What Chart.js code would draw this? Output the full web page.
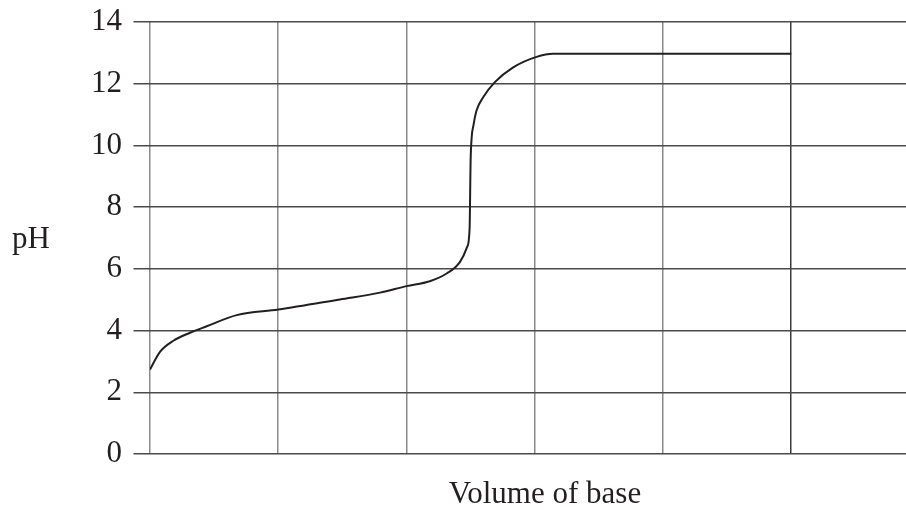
<!DOCTYPE html>
<html>
<head>
<meta charset="utf-8">
<script src="https://cdn.jsdelivr.net/npm/chart.js@4/dist/chart.umd.min.js"></script>
<style>
  html, body { margin: 0; padding: 0; background: #fff; overflow: hidden; }
  #wrap { width: 940px; height: 510px; position: relative; }
</style>
</head>
<body>
<div id="wrap"><canvas id="c" width="940" height="510"></canvas></div>
<script>
// Data
const volumes  = [0, 0.078, 0.182, 0.312, 0.442, 0.676, 1.0, 1.481, 1.793, 2.0, 2.182, 2.313, 2.416, 2.473, 2.492, 2.500, 2.508, 2.522, 2.546, 2.598, 2.689, 2.832, 3.014, 3.143, 5.0];
const phValues = [2.74, 3.31, 3.67, 3.93, 4.14, 4.50, 4.68, 5.01, 5.23, 5.44, 5.60, 5.85, 6.22, 6.71, 7.3, 9.5, 10.25, 10.65, 11.13, 11.56, 12.05, 12.53, 12.87, 12.97, 12.97];
const yTicks = [0, 2, 4, 6, 8, 10, 12, 14];
const xTitle = 'Volume of base';
const yTitle = 'pH';

const FONT = '"Liberation Serif", "Times New Roman", serif';

const points = volumes.map((v, i) => ({ x: v, y: phValues[i] }));

const yLabelPlugin = {
  id: 'yLabel',
  afterDraw(chart) {
    const ctx = chart.ctx;
    const a = chart.chartArea;
    ctx.save();
    ctx.font = '31px ' + FONT;
    ctx.fillStyle = '#231f20';
    ctx.textAlign = 'left';
    ctx.textBaseline = 'alphabetic';
    ctx.fillText(yTitle, 12, (a.top + a.bottom) / 2 + 10);
    ctx.restore();
  }
};

new Chart(document.getElementById('c'), {
  type: 'line',
  data: {
    datasets: [{
      data: points,
      borderColor: '#231f20',
      borderWidth: 2,
      pointRadius: 0,
      fill: false,
      cubicInterpolationMode: 'monotone'
    }]
  },
  options: {
    responsive: false,
    animation: false,
    events: [],
    layout: { padding: { top: 22, right: 0, bottom: 0, left: 0 } },
    plugins: { legend: { display: false }, tooltip: { enabled: false } },
    scales: {
      x: {
        type: 'linear',
        min: 0,
        max: 6.16,
        ticks: { stepSize: 1, display: false },
        grid: {
          drawTicks: false,
          color: ctx => (ctx.tick && ctx.tick.value === 5) ? '#3a3a3a' : '#8a8a8a',
          lineWidth: 1.5
        },
        border: { display: false },
        title: {
          display: true,
          text: xTitle,
          color: '#231f20',
          font: { family: FONT, size: 31, lineHeight: 1 },
          padding: { top: 25, bottom: 0 }
        }
      },
      y: {
        min: 0,
        max: 14,
        afterFit: s => { s.width = 150; },
        afterBuildTicks: s => { s.ticks = yTicks.map(v => ({ value: v })); },
        ticks: {
          color: '#231f20',
          padding: 11.5,
          font: { family: FONT, size: 31, lineHeight: 0.6 }
        },
        grid: {
          drawTicks: true,
          tickLength: 16.5,
          color: '#4a4a4a',
          lineWidth: 1.5
        },
        border: { display: false }
      }
    }
  },
  plugins: [yLabelPlugin]
});
</script>
</body>
</html>
